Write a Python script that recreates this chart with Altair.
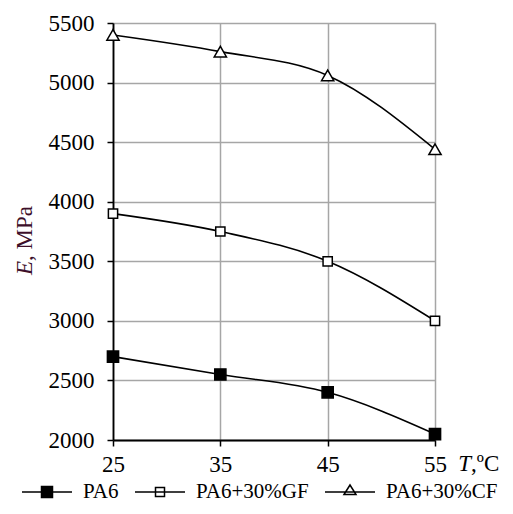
import altair as alt
import pandas as pd

# ---- data ----
temps = [25, 35, 45, 55]
series_names = ["PA6", "PA6+30%GF", "PA6+30%CF"]
pa6 = [2700, 2550, 2400, 2050]
pa6_gf = [3900, 3750, 3500, 3000]
pa6_cf = [5400, 5260, 5060, 4440]
y_ticks = [2000, 2500, 3000, 3500, 4000, 4500, 5000, 5500]

rows = []
for name, vals in zip(series_names, [pa6, pa6_gf, pa6_cf]):
    for t, v in zip(temps, vals):
        rows.append({"T": t, "E": v, "series": name})
df = pd.DataFrame(rows)

FONT = "Liberation Serif"
FS = 23

x_enc = alt.X(
    "T:Q",
    scale=alt.Scale(domain=[25, 55], nice=False, zero=False),
    axis=alt.Axis(
        values=temps, title=None, format="d", labelFont=FONT, labelFontSize=FS, labelColor="black",
        labelFlush=False, labelOverlap=False, labelPadding=7,
        tickSize=6, tickColor="black", tickWidth=1.5,
        domainColor="black", domainWidth=1.8,
        grid=True, gridColor="#a6a6a6", gridWidth=1.5,
    ),
)
y_enc = alt.Y(
    "E:Q",
    scale=alt.Scale(domain=[2000, 5500], nice=False, zero=False),
    axis=alt.Axis(
        values=y_ticks, title=None, format="d", labelFont=FONT, labelFontSize=FS, labelColor="black",
        labelFlush=False, labelOverlap=False, labelPadding=13,
        tickSize=6, tickColor="black", tickWidth=1.5,
        domainColor="black", domainWidth=1.8,
        grid=True, gridColor="#a6a6a6", gridWidth=1.5,
    ),
)

base = alt.Chart(df)

lines = base.mark_line(interpolate="monotone", color="black", strokeWidth=1.6).encode(
    x=x_enc, y=y_enc, detail="series:N"
)

# markers, one layer per series
marker_styles = [("square", "black", 125), ("square", "white", 85), ("triangle-up", "white", 150)]
pt_layers = []
for name, (shp, fil, sz) in zip(series_names, marker_styles):
    pt_layers.append(
        base.transform_filter(alt.datum.series == name).mark_point(
            shape=shp, fill=fil, fillOpacity=1, stroke="black", strokeWidth=1.5, size=sz, opacity=1
        ).encode(x=x_enc, y=y_enc)
    )

# legend-only layer (no marks drawn, legend from explicit scale domains)
leg_paths = [
    "M-1,0H1M-0.22,-0.22H0.22V0.22H-0.22Z",
    "M-1,0H1M-0.18,-0.18H0.18V0.18H-0.18Z",
    "M-1,0H1M-0.24,0.1L0,-0.28L0.24,0.1Z",
]
leg_props = dict(
    title=None, orient="none", direction="horizontal", legendX=-92, legendY=443,
    labelFont=FONT, labelFontSize=21, labelColor="black", labelOffset=10,
    columnPadding=13, symbolSize=2500, symbolStrokeWidth=1.5,
    symbolOpacity=1, padding=0, labelLimit=300,
)
leg = base.transform_filter("false").mark_point(filled=False, strokeWidth=1.5).encode(
    x=x_enc,
    y=y_enc,
    fill=alt.Fill("series:N", scale=alt.Scale(domain=series_names,
                  range=["black", "white", "white"]), legend=alt.Legend(**leg_props)),
    stroke=alt.Stroke("series:N", scale=alt.Scale(domain=series_names,
                      range=["black", "black", "black"]), legend=alt.Legend(**leg_props)),
    shape=alt.Shape("series:N", scale=alt.Scale(domain=series_names, range=leg_paths),
                    legend=alt.Legend(**leg_props)),
)

# axis titles with italic symbol letters
ytitle_sym = alt.Chart(pd.DataFrame({"t": ["E"]})).mark_text(
    font=FONT, fontSize=FS, fontStyle="italic", color="#3d0f2a", angle=270,
    align="right", baseline="middle"
).encode(text="t:N", x=alt.value(-88), y=alt.value(238))
ytitle_rest = alt.Chart(pd.DataFrame({"t": [", MPa"]})).mark_text(
    font=FONT, fontSize=FS, color="#3d0f2a", angle=270,
    align="left", baseline="middle"
).encode(text="t:N", x=alt.value(-88), y=alt.value(238))

xtitle_sym = alt.Chart(pd.DataFrame({"t": ["T"]})).mark_text(
    font=FONT, fontSize=FS, fontStyle="italic", color="black",
    align="right", baseline="middle"
).encode(text="t:N", x=alt.value(358), y=alt.value(441))
xtitle_rest = alt.Chart(pd.DataFrame({"t": [",ºC"]})).mark_text(
    font=FONT, fontSize=FS, color="black",
    align="left", baseline="middle"
).encode(text="t:N", x=alt.value(358), y=alt.value(441))

chart = alt.layer(
    lines, *pt_layers, leg, ytitle_sym, ytitle_rest, xtitle_sym, xtitle_rest
).properties(
    width=322, height=417,
    autosize=alt.AutoSizeParams(type="none"),
    padding={"left": 105, "top": 15, "right": 70, "bottom": 64},
    background="white",
).configure_view(strokeWidth=0)

chart.save("out.html", embed_options={"renderer": "svg", "actions": False})
